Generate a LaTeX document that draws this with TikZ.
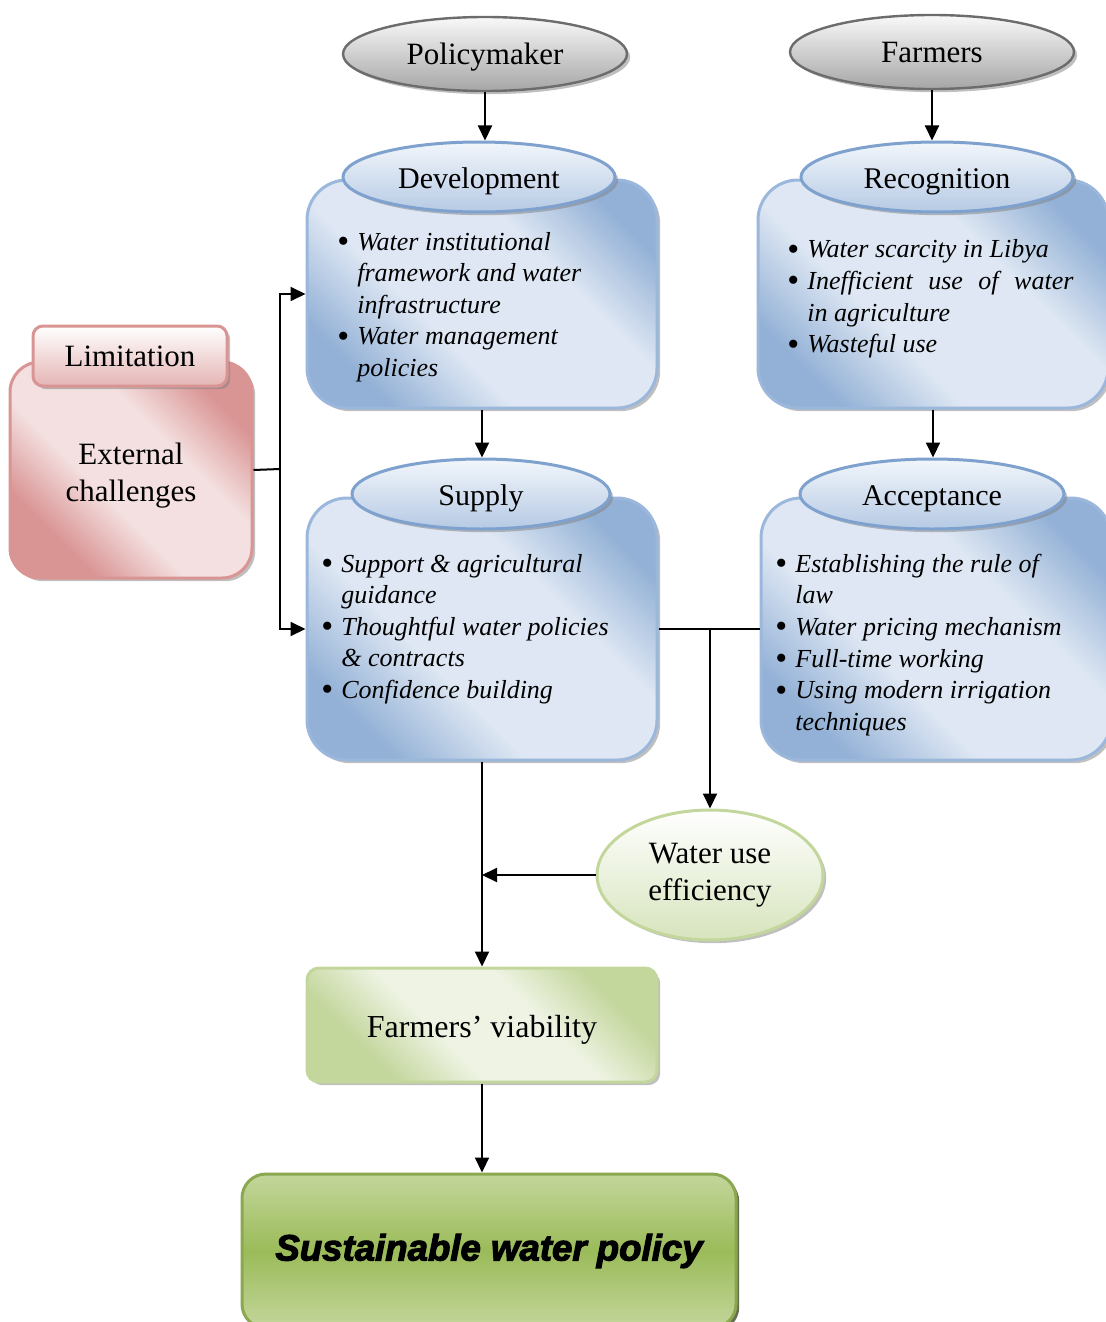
\documentclass[tikz,border=0pt]{standalone}
\usepackage{fontspec}
\setmainfont{Liberation Serif}
\newfontface\goalfont[FakeBold=3]{Liberation Sans Bold Italic}
\usetikzlibrary{shapes.geometric,shadows,arrows.meta}

\definecolor{bxdark}{HTML}{93B1D6}
\definecolor{bxlight}{HTML}{DEE7F3}
\definecolor{bxborder}{HTML}{9BB7DB}
\definecolor{hdtop}{HTML}{F2F6FB}
\definecolor{hdbot}{HTML}{B6CAE4}
\definecolor{hdborder}{HTML}{7FA1CE}
\definecolor{pkdark}{HTML}{D99594}
\definecolor{pklight}{HTML}{F4E0E0}
\definecolor{pkborder}{HTML}{D99594}
\definecolor{gnpale}{HTML}{EEF3E3}
\definecolor{gnlight}{HTML}{D7E4BD}
\definecolor{gnmid}{HTML}{C3D69B}
\definecolor{gndark}{HTML}{9BBB59}

\pgfdeclarehorizontalshading{bluediag}{100bp}{color(0bp)=(bxdark); color(25bp)=(bxdark); color(40bp)=(bxlight); color(62bp)=(bxlight); color(76bp)=(bxdark); color(100bp)=(bxdark)}
\pgfdeclarehorizontalshading{pinkdiag}{100bp}{color(0bp)=(pkdark); color(28bp)=(pkdark); color(42bp)=(pklight); color(60bp)=(pklight); color(74bp)=(pkdark); color(100bp)=(pkdark)}
\pgfdeclarehorizontalshading{greendiag}{100bp}{color(0bp)=(gnmid); color(28bp)=(gnmid); color(42bp)=(gnpale); color(60bp)=(gnpale); color(74bp)=(gnmid); color(100bp)=(gnmid)}

\newcommand{\itm}{\makebox[10pt][l]{\upshape\raisebox{-1.2pt}{\fontsize{17}{17}\selectfont\textbullet}}}
\newcommand{\cnt}{\hspace*{10pt}}

\begin{document}
\begin{tikzpicture}[x=0.5pt, y=-0.5pt,
	shad/.style={drop shadow={shadow xshift=1.6pt, shadow yshift=-1.6pt, opacity=0.5, fill=black!50}},
	topell/.style={ellipse, draw=gray!85!black, line width=1.2pt, top color=gray!5, bottom color=gray!70, shad, minimum width=142pt, minimum height=37pt, text height=14pt, text depth=3pt, font=\fontsize{15.5}{18}\selectfont},
	bluebox/.style={rectangle, rounded corners=20pt, draw=bxborder, line width=1.5pt, shade, shading=bluediag, shading angle=45, shad, minimum width=175pt},
	bluehead/.style={ellipse, draw=hdborder, line width=1.5pt, top color=hdtop, bottom color=hdbot, shad, minimum height=35pt, text height=14pt, text depth=3pt, font=\fontsize{15}{18}\selectfont},
	bulltext/.style={anchor=west, align=left, inner sep=0pt, font=\itshape\fontsize{13}{15.8}\selectfont},
	arr/.style={-{Triangle[length=7.5pt,width=7pt]}, line width=1pt},
	link/.style={line width=1pt}]
	\useasboundingbox (0,0) rectangle (1105,1322);

	% actors
	\node[topell] (pol) at (485,54) {Policymaker};
	\node[topell] (farm) at (932,52) {Farmers};

	% blue boxes with their headers
	\node[bluebox, minimum height=114pt] (devbox) at (482,294) {};
	\node[bluehead, minimum width=136pt] (devhead) at (479,177) {Development};
	\node[bulltext] (devtxt) at (337,307) {\itm Water institutional\\ \cnt framework and water\\ \cnt infrastructure\\ \itm Water management\\ \cnt policies};

	\node[bluebox, minimum height=114pt] (recbox) at (933,294) {};
	\node[bluehead, minimum width=136pt] (rechead) at (937,177) {Recognition};
	\node[bulltext] (rectxt) at (787,299) {\itm Water scarcity in Libya\\ \itm \makebox[133pt][s]{Inefficient use of water}\\ \cnt in agriculture\\ \itm Wasteful use};

	\node[bluebox, minimum height=131pt] (supbox) at (482,629) {};
	\node[bluehead, minimum width=129pt] (suphead) at (481,494) {Supply};
	\node[bulltext] (suptxt) at (321,629) {\itm Support \& agricultural\\ \cnt guidance\\ \itm Thoughtful water policies\\ \cnt \& contracts\\ \itm Confidence building};

	\node[bluebox, minimum height=131pt] (accbox) at (936,629) {};
	\node[bluehead, minimum width=132pt] (acchead) at (932,494) {Acceptance};
	\node[bulltext] (acctxt) at (775,645) {\itm Establishing the rule of\\ \cnt law\\ \itm Water pricing mechanism\\ \itm Full-time working\\ \itm Using modern irrigation\\ \cnt techniques};

	% limitation
	\node[rectangle, rounded corners=15pt, draw=pkborder, line width=1.5pt, shade, shading=pinkdiag, shading angle=45, shad, minimum width=121pt, minimum height=108pt] (limbox) at (131,470) {};
	\node[rectangle, rounded corners=5pt, draw=pkborder, line width=1.5pt, top color=white, bottom color=pkdark!70, shad, minimum width=97pt, minimum height=30pt, text height=13pt, text depth=3pt, font=\fontsize{15.5}{18}\selectfont] (limhead) at (130,356) {Limitation};
	\node[align=center, font=\fontsize{15.5}{18.5}\selectfont] (limtxt) at (131,476) {External\\challenges};

	% outcomes
	\node[ellipse, draw=gnmid, line width=1.5pt, top color=white, bottom color=gnlight, shad, minimum width=113pt, minimum height=65pt, align=center, font=\fontsize{15.5}{18.5}\selectfont] (wue) at (710,875) {Water use\\efficiency};
	\node[rectangle, rounded corners=6pt, draw=gnmid, line width=1.5pt, shade, shading=greendiag, shading angle=45, shad, minimum width=175pt, minimum height=57pt, text height=15pt, text depth=3pt, font=\fontsize{16}{19}\selectfont] (fv) at (482,1025) {Farmers’ viability};
	\node[rectangle, rounded corners=12pt, draw=gndark!90!black, line width=1.5pt, top color=gnmid, bottom color=gnmid, middle color=gndark, drop shadow={shadow xshift=1.6pt, shadow yshift=-1.6pt, opacity=0.8, fill=gndark!40!black}, minimum width=247pt, minimum height=77pt, font=\goalfont\fontsize{18.3}{21}\selectfont] (swp) at (489,1251) {Sustainable water policy};

	% connectors
	\coordinate (lj) at (280,469);
	\coordinate (sj) at (wue.north |- supbox.east);
	\draw[arr] (pol.south) -- (pol.south |- devhead.north);
	\draw[arr] (farm.south) -- (farm.south |- rechead.north);
	\draw[arr] (devbox.south) -- (devbox.south |- suphead.north);
	\draw[arr] (recbox.south) -- (recbox.south |- acchead.north);
	\draw[link] (limbox.east) -- (lj);
	\draw[arr] (lj) |- (devbox.west);
	\draw[arr] (lj) |- (supbox.west);
	\draw[link] (supbox.east) -- (accbox.west);
	\draw[arr] (sj) -- (wue.north);
	\draw[arr] (supbox.south) -- (fv.north);
	\draw[arr] (wue.west) -- (supbox.south |- wue.west);
	\draw[arr] (fv.south) -- (fv.south |- swp.north);
\end{tikzpicture}
\end{document}
